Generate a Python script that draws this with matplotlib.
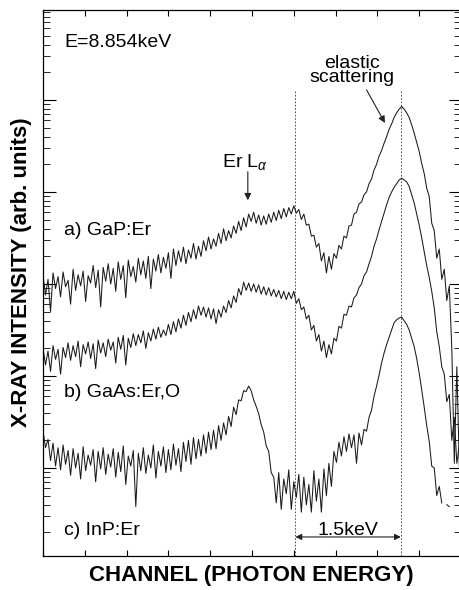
import numpy as np
import matplotlib
matplotlib.use("Agg")
import matplotlib.pyplot as plt
from matplotlib.ticker import LogLocator, MultipleLocator, NullFormatter

plt.rcParams['font.family'] = ['Liberation Sans', 'DejaVu Sans']
plt.rcParams['mathtext.fontset'] = 'custom'
plt.rcParams['mathtext.rm'] = 'Liberation Sans'
plt.rcParams['mathtext.it'] = 'Liberation Sans:italic'

# spectra are stored every 3rd channel, as log10(counts)
CHANNEL_STEP = 3

gap_log = [
    3.10, 2.88, 3.05, 2.70, 3.12, 2.95, 3.08, 2.86, 3.13, 2.97, 3.04, 2.78,
    3.16, 2.93, 3.10, 2.98, 3.14, 2.81, 3.09, 3.01,
    3.20, 2.96, 3.15, 2.75, 3.18, 3.03, 3.22, 3.00, 3.17, 2.92,
    3.24, 3.05, 3.20, 2.85, 3.26, 3.08, 3.19, 3.02,
    3.28, 3.10, 3.25, 3.06, 3.30, 2.95, 3.27,
    3.14, 3.32, 3.12, 3.29, 3.17, 3.34, 3.06,
    3.38, 3.20, 3.36, 3.24, 3.40, 3.22, 3.37,
    3.28, 3.44, 3.27, 3.41, 3.30, 3.47, 3.36,
    3.51, 3.38, 3.49, 3.41, 3.55, 3.44,
    3.60, 3.47, 3.58, 3.50, 3.63, 3.55,
    3.68, 3.58, 3.72, 3.62, 3.76, 3.68,
    3.78, 3.66, 3.75, 3.64, 3.74,
    3.65, 3.76, 3.67, 3.78, 3.69, 3.80, 3.71,
    3.82, 3.73, 3.83, 3.76, 3.85,
    3.77, 3.81, 3.70, 3.76, 3.64, 3.65, 3.52, 3.53, 3.40, 3.44,
    3.25, 3.34, 3.12, 3.30, 3.16, 3.33, 3.28, 3.42, 3.38, 3.52,
    3.50, 3.63, 3.64, 3.76, 3.78, 3.87, 3.89, 3.97, 4.00, 4.09,
    4.14, 4.24, 4.30, 4.39, 4.45, 4.53, 4.60, 4.68, 4.74, 4.81,
    4.86, 4.90, 4.93, 4.90, 4.86, 4.81, 4.73, 4.64, 4.54, 4.44,
    4.31, 4.20, 4.04, 3.95, 3.66, 3.58, 3.28, 3.38, 3.05, 3.16,
    2.82, 2.98, 2.30, 1.05, 2.10, 1.02,
]

gaas_log = [
    2.30, 2.12, 2.27, 2.05, 2.33, 2.18, 2.29, 2.02, 2.31, 2.20,
    2.36, 2.17, 2.33, 2.21, 2.38, 2.10, 2.34, 2.24, 2.37, 2.19, 2.35, 2.08,
    2.39, 2.25, 2.36, 2.21, 2.40, 2.28, 2.37, 2.14,
    2.42, 2.29, 2.44, 2.12, 2.41, 2.31,
    2.46, 2.33, 2.45, 2.36, 2.49, 2.30, 2.47, 2.38,
    2.51, 2.40, 2.53, 2.42, 2.50, 2.44,
    2.56, 2.45, 2.59, 2.48, 2.62, 2.52, 2.66, 2.55, 2.69, 2.59, 2.72, 2.62, 2.76, 2.66,
    2.75, 2.64, 2.74, 2.62, 2.73, 2.57, 2.72, 2.64, 2.76, 2.69,
    2.82, 2.74, 2.87, 2.80, 2.95, 2.88, 3.02, 2.93,
    3.01, 2.92, 3.00, 2.91, 2.99, 2.89, 2.97, 2.88,
    2.96, 2.87, 2.94, 2.86, 2.93, 2.84, 2.92, 2.83, 2.91, 2.84,
    2.92, 2.79, 2.84, 2.72, 2.75, 2.62, 2.66, 2.50, 2.55, 2.38, 2.45,
    2.27, 2.38, 2.20, 2.34, 2.24, 2.41, 2.38, 2.54, 2.52, 2.67,
    2.66, 2.76, 2.75, 2.85, 2.88, 2.96, 3.00, 3.09, 3.13, 3.22,
    3.30, 3.41, 3.49, 3.59, 3.68, 3.77, 3.86, 3.94, 4.00, 4.05,
    4.09, 4.13, 4.15, 4.13, 4.11, 4.06, 3.97, 3.88, 3.76, 3.64,
    3.50, 3.35, 3.20, 3.07, 2.92, 2.74, 2.48, 2.32, 2.10, 2.02,
    1.72, 1.80, 1.30, 1.55, 1.05, 1.25,
]

inp_log = [
    1.40, 1.22, 1.31, 1.08, 1.27, 1.02, 1.22, 0.98, 1.25, 1.04, 1.19, 0.92,
    1.21, 1.00, 1.16, 0.88, 1.23, 0.97, 1.14, 1.03, 1.20, 0.85, 1.18, 0.99, 1.22, 0.93,
    1.15, 1.01, 1.21, 0.90, 1.17, 0.96, 1.24, 0.82, 1.13, 1.02,
    1.19, 0.58, 1.16, 0.97, 1.22, 0.94, 1.14, 1.00, 1.25, 0.89,
    1.18, 1.02, 1.23, 0.95, 1.20, 0.98, 1.26, 1.03, 1.21, 0.96,
    1.28, 1.07, 1.30, 1.04, 1.33, 1.10, 1.31, 1.13, 1.36, 1.16, 1.39, 1.20,
    1.41, 1.21, 1.46, 1.30, 1.49, 1.36, 1.56, 1.45, 1.66, 1.58,
    1.74, 1.73, 1.84, 1.83, 1.89, 1.84, 1.74, 1.67, 1.59, 1.47, 1.39,
    1.24, 1.18, 0.95, 0.90,
    0.62, 0.95, 0.55, 0.88, 0.72, 0.98, 0.55, 0.85, 0.68, 0.93, 0.52, 0.90,
    0.60, 0.82, 0.52, 0.97, 0.64, 0.88, 0.52,
    0.99, 0.70, 1.05, 0.80, 1.18, 1.06, 1.28, 1.13, 1.34, 1.18, 1.37, 1.22,
    1.36, 1.05, 1.38, 1.25,
    1.42, 1.40, 1.55, 1.63, 1.78, 1.89, 2.01, 2.14, 2.25, 2.34, 2.42, 2.50, 2.58,
    2.61, 2.63, 2.64, 2.60, 2.56, 2.50, 2.41, 2.32, 2.19, 2.03, 1.85, 1.66,
    1.46, 1.29, 1.02, 1.00, 0.70, 0.80, 0.62, np.nan, 0.60, 0.58,
]

sample_labels = ["a) GaP:Er", "b) GaAs:Er,O", "c) InP:Er"]

# channel positions of the marked features
HUMP_CH = 302       # Er L-alpha hump of GaP:Er
ELASTIC_CH = 428    # elastic scattering peak
ER_LA_CH = 245      # Er L-alpha line


def px(x, y):
    # pixel position -> figure fraction
    return x / 459, 1 - y / 590


fig = plt.figure(figsize=(4.59, 5.90), dpi=100)
ax = fig.add_axes([43 / 459, 1 - 556 / 590, 418 / 459, 546 / 590])

for vals in (gap_log, gaas_log, inp_log):
    vals = np.array(vals)
    ch = np.arange(len(vals)) * CHANNEL_STEP
    ax.plot(ch, 10 ** vals, color='#1a1a1a', lw=0.75)

ax.set_yscale('log')
ax.set_xlim(0, 500)
ax.set_ylim(10 ** 0.043, 10 ** 5.978)

ax.xaxis.set_major_locator(MultipleLocator(50))
ax.yaxis.set_major_locator(LogLocator(base=10, numticks=12))
ax.yaxis.set_minor_locator(LogLocator(base=10, subs=np.arange(2, 10), numticks=40))
ax.xaxis.set_major_formatter(NullFormatter())
ax.yaxis.set_major_formatter(NullFormatter())
ax.yaxis.set_minor_formatter(NullFormatter())
ax.tick_params(axis='x', which='both', direction='in', length=4.5, width=0.8,
               top=True, bottom=True)
ax.tick_params(axis='y', which='major', direction='in', length=9, width=0.8,
               left=True, right=True)
ax.tick_params(axis='y', which='minor', direction='in', length=5, width=0.6,
               left=True, right=True)
for sp in ax.spines.values():
    sp.set_linewidth(0.9)

# energy markers
ax.vlines([HUMP_CH, ELASTIC_CH], 10 ** 0.043, 10 ** 5.1, colors='#333333',
          linestyles=(0, (2, 2)), lw=0.6)
ax.annotate('', xy=(HUMP_CH, 10 ** 0.25), xytext=(ELASTIC_CH, 10 ** 0.25),
            arrowprops=dict(arrowstyle='<|-|>', color='#222222', lw=0.8,
                            mutation_scale=9, shrinkA=0, shrinkB=0))
ax.annotate('', xy=(ER_LA_CH, 10 ** 3.91), xytext=(ER_LA_CH, 10 ** 4.22),
            arrowprops=dict(arrowstyle='-|>', color='#222222', lw=0.8,
                            mutation_scale=10, shrinkA=0, shrinkB=0))
ax.annotate('', xy=(409, 10 ** 4.75), xytext=(387, 10 ** 5.11),
            arrowprops=dict(arrowstyle='-|>', color='#222222', lw=0.8,
                            mutation_scale=10, shrinkA=0, shrinkB=0))

fs = 14
fig.text(*px(64, 47), "E=8.854keV", fontsize=fs, va='baseline')
fig.text(*px(64, 235), sample_labels[0], fontsize=fs, va='baseline')
fig.text(*px(64, 397), sample_labels[1], fontsize=fs, va='baseline')
fig.text(*px(64, 535), sample_labels[2], fontsize=fs, va='baseline')
fig.text(*px(352, 82), "elastic\nscattering", fontsize=fs, ha='center',
         va='baseline', multialignment='center', linespacing=0.8)
fig.text(*px(222, 167), r"Er L$_{\alpha}$", fontsize=fs, va='baseline')
fig.text(*px(348, 535), "1.5keV", fontsize=fs, ha='center', va='baseline')

fig.text(*px(251, 575), "CHANNEL (PHOTON ENERGY)", fontsize=16,
         fontweight='bold', ha='center', va='center')
fig.text(*px(22, 272), "X-RAY INTENSITY (arb. units)", fontsize=16,
         fontweight='bold', ha='center', va='center', rotation=90)

fig.savefig("out.png", dpi=100)
